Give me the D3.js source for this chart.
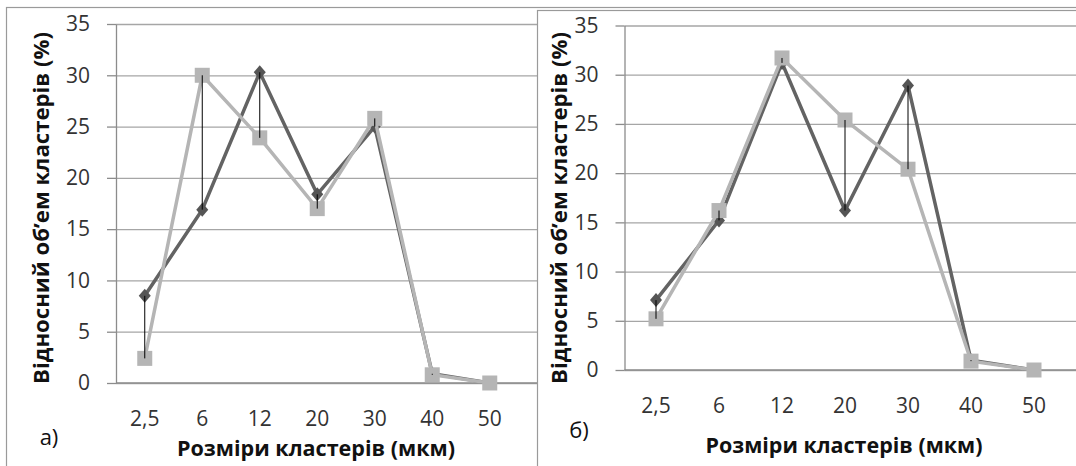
<!DOCTYPE html>
<html><head><meta charset="utf-8">
<script src="https://cdn.jsdelivr.net/npm/d3@7"></script>
<style>html,body{margin:0;padding:0;background:#fff;} svg{display:block;}</style>
</head><body>
<svg id="chart" width="1076" height="466"></svg>
<script>
// ---- data ----
const categories = ["2,5", "6", "12", "20", "30", "40", "50"];
const yTickValues = [0, 5, 10, 15, 20, 25, 30, 35];
const panelA_dark  = [8.5, 16.9, 30.3, 18.4, 25.0, 0.9, 0];
const panelA_light = [2.4, 30.0, 23.9, 17.0, 25.8, 0.8, 0];
const panelB_dark  = [7.1, 15.2, 31.2, 16.2, 28.9, 1.0, 0];
const panelB_light = [5.2, 16.2, 31.7, 25.4, 20.4, 0.9, 0];
const panelLabels = ["а)", "б)"];
const xTitleText = "Розміри кластерів (мкм)";
const yTitleText = "Відносний об’ем кластерів (%)";

// ---- layout ----
const panels = [
  { dark: panelA_dark, light: panelA_light, label: panelLabels[0],
    frame: {x: 6.5, y: 7.5, fill: "none"},
    left: 116, right: 518.5, gridEnd: 537, top: 24, bottom: 383,
    xLabelPad: 28, xTitle: {x: 316, y: 448, w: 278},
    yTitle: {x: 41, y: 208, w: 352}, lab: {x: 49, y: 437} },
  { dark: panelB_dark, light: panelB_light, label: panelLabels[1],
    frame: {x: 537.5, y: 10.5, fill: "#fff"},
    left: 624.5, right: 1065.5, gridEnd: 1076, top: 25.5, bottom: 370,
    xLabelPad: 28, xTitle: {x: 844, y: 445, w: 277},
    yTitle: {x: 559, y: 208, w: 352}, lab: {x: 579, y: 430} }
];

const FONT = "'Open Sans', 'Noto Sans', sans-serif";
const svg = d3.select("#chart");

function fitText(sel, target) {
  const node = sel.node();
  const base = parseFloat(sel.attr("font-size"));
  const len = node.getComputedTextLength();
  if (len > 0) sel.attr("font-size", (base * target / len).toFixed(2));
}

panels.forEach(p => {
  const g = svg.append("g");
  g.append("rect").attr("x", p.frame.x).attr("y", p.frame.y)
    .attr("width", 1200).attr("height", 600)
    .attr("fill", p.frame.fill).attr("stroke", "#9a9a9a").attr("stroke-width", 1.2);

  const x = d3.scaleBand().domain(categories).range([p.left, p.right]);
  const cx = c => x(c) + x.bandwidth() / 2;
  const y = d3.scaleLinear().domain([0, 35]).range([p.bottom, p.top]);

  // gridlines
  g.append("g").attr("transform", `translate(${p.left},0)`)
    .call(d3.axisLeft(y).tickValues(yTickValues).tickSize(-(p.gridEnd - p.left)).tickFormat(""))
    .call(a => a.select(".domain").remove())
    .selectAll("line").attr("stroke", "#a6a6a6").attr("stroke-width", 1.3);

  // y axis
  const ya = g.append("g").attr("transform", `translate(${p.left},0)`)
    .call(d3.axisLeft(y).tickValues(yTickValues).tickSize(9).tickSizeOuter(0).tickPadding(17));
  ya.select(".domain").attr("stroke", "#8c8c8c").attr("stroke-width", 1.3);
  ya.selectAll("line").attr("stroke", "#8c8c8c").attr("stroke-width", 1.3);
  ya.selectAll("text").attr("font-family", FONT).attr("font-size", 21).attr("fill", "#333");

  // x axis
  const xa = g.append("g").attr("transform", `translate(0,${p.bottom})`)
    .call(d3.axisBottom(x).tickSize(0).tickSizeOuter(0).tickPadding(p.xLabelPad));
  xa.select(".domain").attr("d", `M${p.left},0H${p.gridEnd}`)
    .attr("stroke", "#8c8c8c").attr("stroke-width", 1.3);
  xa.selectAll("text").attr("font-family", FONT).attr("font-size", 21).attr("fill", "#333");

  const line = d3.line().x((d, i) => cx(categories[i])).y(d => y(d));

  // dark series (diamonds)
  g.append("path").datum(p.dark).attr("d", line)
    .attr("fill", "none").attr("stroke", "#636363").attr("stroke-width", 3.5)
    .attr("stroke-linejoin", "miter");
  g.selectAll(".dia").data(p.dark).enter().append("path")
    .attr("d", (d, i) => {
      const X = cx(categories[i]), Y = y(d);
      return `M${X},${Y - 7}L${X + 6},${Y}L${X},${Y + 7}L${X - 6},${Y}Z`;
    })
    .attr("fill", "#555");

  // light series (squares)
  g.append("path").datum(p.light).attr("d", line)
    .attr("fill", "none").attr("stroke", "#b5b5b5").attr("stroke-width", 3.5)
    .attr("stroke-linejoin", "miter");
  g.selectAll(".sq").data(p.light).enter().append("rect")
    .attr("x", (d, i) => cx(categories[i]) - 7.5).attr("y", d => y(d) - 7.5)
    .attr("width", 15).attr("height", 15).attr("fill", "#b5b5b5");

  // high-low lines
  g.selectAll(".hl").data(categories).enter().append("line")
    .attr("x1", c => cx(c)).attr("x2", c => cx(c))
    .attr("y1", (c, i) => y(p.dark[i])).attr("y2", (c, i) => y(p.light[i]))
    .attr("stroke", "#000").attr("stroke-width", 1);

  // titles
  const xt = g.append("text").attr("x", p.xTitle.x).attr("y", p.xTitle.y)
    .attr("dy", "0.35em").attr("text-anchor", "middle")
    .attr("font-family", FONT).attr("font-weight", "bold").attr("font-size", 20)
    .attr("fill", "#111").text(xTitleText);
  fitText(xt, p.xTitle.w);

  const yt = g.append("text")
    .attr("transform", `translate(${p.yTitle.x},${p.yTitle.y}) rotate(-90)`)
    .attr("dy", "0.35em").attr("text-anchor", "middle")
    .attr("font-family", FONT).attr("font-weight", "bold").attr("font-size", 20)
    .attr("fill", "#111").text(yTitleText);
  fitText(yt, p.yTitle.w);

  g.append("text").attr("x", p.lab.x).attr("y", p.lab.y).attr("dy", "0.35em")
    .attr("text-anchor", "middle").attr("font-family", FONT).attr("font-size", 22)
    .attr("fill", "#111").text(p.label);
});
</script>
</body></html>
